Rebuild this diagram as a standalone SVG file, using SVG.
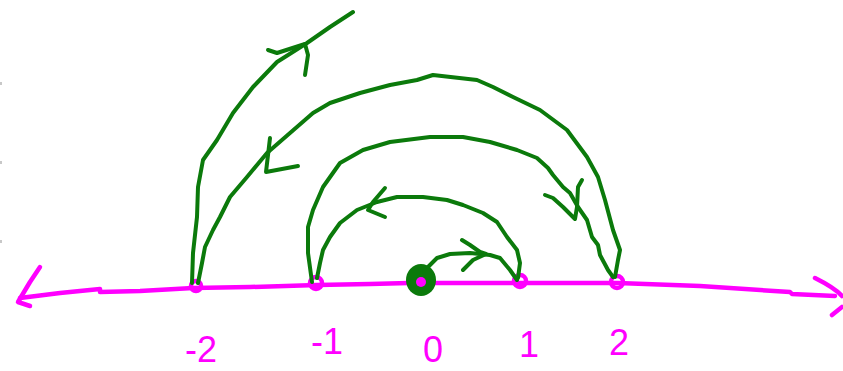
<svg xmlns="http://www.w3.org/2000/svg" width="843" height="371" viewBox="0 0 843 371">
<style>
.m{fill:none;stroke:#ff00ff;stroke-width:4.5;stroke-linecap:round;stroke-linejoin:round}
.g{fill:none;stroke:#0b7a0b;stroke-width:4;stroke-linecap:round;stroke-linejoin:round}
.lbl{fill:#ff00ff;font-family:"Liberation Sans",Arial,sans-serif;font-size:36px;text-anchor:middle}
.tick{fill:#c8c8c8}
</style>
<rect width="843" height="371" fill="#ffffff"/>
<rect class="tick" x="0" y="82" width="2" height="3"/>
<rect class="tick" x="0" y="161" width="2" height="3"/>
<rect class="tick" x="0" y="240" width="2" height="3"/>
<g id="number-line">
<path class="m" d="M20,298 L60,293 L100,289 L100,292 L140,291 L193,288 L250,287 L317,285 L370,284 L409,283 L470,283 L516,283 L570,283 L618,283 L700,286 L790,292 L792,294 L835,296"/>
<path class="m" d="M40,267 L30,282 L18,302 L30,306"/>
<path class="m" d="M815,278 Q835,288 842,296 M832,315 L842,307"/>
</g>
<g id="point-m2"><circle class="m" cx="196" cy="286" r="5"/></g>
<g id="point-m1"><circle class="m" cx="316" cy="283" r="6"/></g>
<g id="point-0">
<ellipse cx="421" cy="280" rx="15" ry="16" fill="#0b7a0b"/>
<circle cx="421" cy="282" r="5" fill="#ff00ff"/>
</g>
<g id="point-1"><circle class="m" cx="520" cy="281" r="6"/></g>
<g id="point-2"><circle class="m" cx="617" cy="282" r="6"/></g>
<g id="labels">
<text class="lbl" x="201" y="362">-2</text>
<text class="lbl" x="327" y="354">-1</text>
<text class="lbl" x="433" y="362">0</text>
<text class="lbl" x="529" y="357">1</text>
<text class="lbl" x="619" y="355">2</text>
</g>
<g id="connectors">
<path class="g" d="M192,283 L193,253 L197,217 L198,187 L203,160 L217,140 L233,113 L253,87 L277,62 L307,43 L330,27 L353,12"/>
<path class="g" d="M268,50 L277,53 L305,44 M305,75 L308,55 L305,44"/>
<path class="g" d="M198,283 L202,263 L205,247 L213,230 L220,217 L230,197 L247,177 L267,153 L290,133 L313,113 L330,103 L360,93 L390,85 L417,80 L433,75 L477,80 L493,87 L513,97 L540,110 L567,130 L587,157 L598,177 L605,200 L613,230 L620,250 L618,260 L615,277"/>
<path class="g" d="M270,138 L266,172 L298,166"/>
<path class="g" d="M312,282 L308,253 L308,227 L313,210 L323,187 L340,163 L363,150 L390,142 L430,137 L463,137 L490,142 L517,150 L537,158 L548,168 L553,175 L563,187 L570,193 L578,207 L587,220 L592,237 L598,245 L600,255 L608,270 L613,277"/>
<path class="g" d="M545,195 L553,198 L563,207 L575,219 M582,180 L578,187 L577,207 L575,219"/>
<path class="g" d="M317,278 L320,263 L323,250 L330,237 L340,223 L357,210 L377,202 L397,197 L423,197 L447,200 L463,205 L483,213 L497,222 L507,237 L517,250 L520,263 L518,278"/>
<path class="g" d="M385,188 L373,202 L368,210 L385,217"/>
<path class="g" d="M428,267 L437,258 L450,254 L470,253 L490,255 L500,258 L510,270 L517,280"/>
<path class="g" d="M462,240 L470,245 L480,252 L486,254 M463,270 L473,260 L486,254"/>
</g>
</svg>
